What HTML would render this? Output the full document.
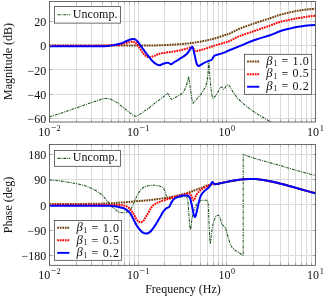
<!DOCTYPE html>
<html><head><meta charset="utf-8"><title>Bode</title>
<style>html,body{margin:0;padding:0;background:#fff;}body{width:328px;height:300px;overflow:hidden;font-family:"Liberation Serif",serif;}</style></head>
<body>
<svg width="328" height="300" viewBox="0 0 328 300" style="display:block;will-change:transform">
<rect x="0" y="0" width="328" height="300" fill="#fff"/>
<defs><clipPath id="c1"><rect x="49.5" y="1.5" width="266.0" height="120.5"/></clipPath><clipPath id="c2"><rect x="49.5" y="144.5" width="266.0" height="120.80000000000001"/></clipPath></defs>
<line x1="76.50" y1="1.5" x2="76.50" y2="122.0" stroke="#dbdbdb" stroke-width="1"/>
<line x1="91.50" y1="1.5" x2="91.50" y2="122.0" stroke="#dbdbdb" stroke-width="1"/>
<line x1="102.50" y1="1.5" x2="102.50" y2="122.0" stroke="#dbdbdb" stroke-width="1"/>
<line x1="111.50" y1="1.5" x2="111.50" y2="122.0" stroke="#dbdbdb" stroke-width="1"/>
<line x1="118.50" y1="1.5" x2="118.50" y2="122.0" stroke="#dbdbdb" stroke-width="1"/>
<line x1="124.50" y1="1.5" x2="124.50" y2="122.0" stroke="#dbdbdb" stroke-width="1"/>
<line x1="129.50" y1="1.5" x2="129.50" y2="122.0" stroke="#dbdbdb" stroke-width="1"/>
<line x1="134.50" y1="1.5" x2="134.50" y2="122.0" stroke="#dbdbdb" stroke-width="1"/>
<line x1="138.50" y1="1.5" x2="138.50" y2="122.0" stroke="#dbdbdb" stroke-width="1"/>
<line x1="164.50" y1="1.5" x2="164.50" y2="122.0" stroke="#dbdbdb" stroke-width="1"/>
<line x1="180.50" y1="1.5" x2="180.50" y2="122.0" stroke="#dbdbdb" stroke-width="1"/>
<line x1="191.50" y1="1.5" x2="191.50" y2="122.0" stroke="#dbdbdb" stroke-width="1"/>
<line x1="200.50" y1="1.5" x2="200.50" y2="122.0" stroke="#dbdbdb" stroke-width="1"/>
<line x1="207.50" y1="1.5" x2="207.50" y2="122.0" stroke="#dbdbdb" stroke-width="1"/>
<line x1="213.50" y1="1.5" x2="213.50" y2="122.0" stroke="#dbdbdb" stroke-width="1"/>
<line x1="218.50" y1="1.5" x2="218.50" y2="122.0" stroke="#dbdbdb" stroke-width="1"/>
<line x1="222.50" y1="1.5" x2="222.50" y2="122.0" stroke="#dbdbdb" stroke-width="1"/>
<line x1="226.50" y1="1.5" x2="226.50" y2="122.0" stroke="#dbdbdb" stroke-width="1"/>
<line x1="253.50" y1="1.5" x2="253.50" y2="122.0" stroke="#dbdbdb" stroke-width="1"/>
<line x1="269.50" y1="1.5" x2="269.50" y2="122.0" stroke="#dbdbdb" stroke-width="1"/>
<line x1="280.50" y1="1.5" x2="280.50" y2="122.0" stroke="#dbdbdb" stroke-width="1"/>
<line x1="288.50" y1="1.5" x2="288.50" y2="122.0" stroke="#dbdbdb" stroke-width="1"/>
<line x1="295.50" y1="1.5" x2="295.50" y2="122.0" stroke="#dbdbdb" stroke-width="1"/>
<line x1="301.50" y1="1.5" x2="301.50" y2="122.0" stroke="#dbdbdb" stroke-width="1"/>
<line x1="306.50" y1="1.5" x2="306.50" y2="122.0" stroke="#dbdbdb" stroke-width="1"/>
<line x1="311.50" y1="1.5" x2="311.50" y2="122.0" stroke="#dbdbdb" stroke-width="1"/>
<line x1="49.5" y1="21.50" x2="315.5" y2="21.50" stroke="#dbdbdb" stroke-width="1"/>
<line x1="49.5" y1="45.50" x2="315.5" y2="45.50" stroke="#dbdbdb" stroke-width="1"/>
<line x1="49.5" y1="69.50" x2="315.5" y2="69.50" stroke="#dbdbdb" stroke-width="1"/>
<line x1="49.5" y1="94.50" x2="315.5" y2="94.50" stroke="#dbdbdb" stroke-width="1"/>
<line x1="49.5" y1="118.50" x2="315.5" y2="118.50" stroke="#dbdbdb" stroke-width="1"/>
<g clip-path="url(#c1)" fill="none" stroke-linejoin="round">
<path d="M49.50,116.80 C51.95,116.02 59.20,113.77 64.20,112.10 C69.20,110.43 74.42,108.58 79.50,106.80 C84.58,105.02 91.45,102.50 94.70,101.40 C97.95,100.30 97.93,100.55 99.00,100.20 C100.07,99.85 100.35,99.55 101.10,99.30 C101.85,99.05 102.62,98.85 103.50,98.70 C104.38,98.55 105.52,98.40 106.40,98.40 C107.28,98.40 108.03,98.53 108.80,98.70 C109.57,98.87 110.13,99.03 111.00,99.40 C111.87,99.77 112.85,100.27 114.00,100.90 C115.15,101.53 115.98,101.80 117.90,103.20 C119.82,104.60 123.22,107.47 125.50,109.30 C127.78,111.13 130.25,113.17 131.60,114.20 C132.95,115.23 132.97,115.17 133.60,115.50 C134.23,115.83 134.80,116.17 135.40,116.20 C136.00,116.23 136.57,115.95 137.20,115.70 C137.83,115.45 137.90,115.55 139.20,114.70 C140.50,113.85 143.60,111.55 145.00,110.60 C146.40,109.65 145.90,110.28 147.60,109.00 C149.30,107.72 152.65,104.88 155.20,102.90 C157.75,100.92 161.17,98.43 162.90,97.10 C164.63,95.77 164.85,95.52 165.60,94.90 C166.35,94.28 166.93,93.45 167.40,93.40 C167.87,93.35 168.02,94.03 168.40,94.60 C168.78,95.17 169.27,96.12 169.70,96.80 C170.13,97.48 170.62,98.27 171.00,98.70 C171.38,99.13 171.58,99.40 172.00,99.40 C172.42,99.40 172.73,99.13 173.50,98.70 C174.27,98.27 175.32,97.58 176.60,96.80 C177.88,96.02 179.93,95.05 181.20,94.00 C182.47,92.95 183.28,92.08 184.20,90.50 C185.12,88.92 186.07,86.25 186.70,84.50 C187.33,82.75 187.67,81.28 188.00,80.00 C188.33,78.72 188.48,76.72 188.70,76.80 C188.92,76.88 189.08,78.97 189.30,80.50 C189.52,82.03 189.60,83.13 190.00,86.00 C190.40,88.87 191.28,95.07 191.70,97.70 C192.12,100.33 192.28,100.88 192.50,101.80 C192.72,102.72 192.77,103.12 193.00,103.20 C193.23,103.28 193.28,103.00 193.90,102.30 C194.52,101.60 195.40,100.55 196.70,99.00 C198.00,97.45 200.32,94.88 201.70,93.00 C203.08,91.12 204.17,89.42 205.00,87.70 C205.83,85.98 206.20,84.93 206.70,82.70 C207.20,80.47 207.65,77.92 208.00,74.30 C208.35,70.68 208.57,61.72 208.80,61.00 C209.03,60.28 209.20,67.22 209.40,70.00 C209.60,72.78 209.68,74.20 210.00,77.70 C210.32,81.20 210.93,87.87 211.30,91.00 C211.67,94.13 211.95,95.25 212.20,96.50 C212.45,97.75 212.53,98.32 212.80,98.50 C213.07,98.68 213.35,98.03 213.80,97.60 C214.25,97.17 214.68,97.05 215.50,95.90 C216.32,94.75 217.95,91.97 218.70,90.70 C219.45,89.43 219.60,88.90 220.00,88.30 C220.40,87.70 220.70,87.18 221.10,87.10 C221.50,87.02 221.97,87.43 222.40,87.80 C222.83,88.17 223.27,89.28 223.70,89.30 C224.13,89.32 224.62,88.47 225.00,87.90 C225.38,87.33 225.67,86.35 226.00,85.90 C226.33,85.45 226.63,85.32 227.00,85.20 C227.37,85.08 227.78,85.07 228.20,85.20 C228.62,85.33 228.87,85.13 229.50,86.00 C230.13,86.87 231.03,88.87 232.00,90.40 C232.97,91.93 234.18,93.72 235.30,95.20 C236.42,96.68 237.03,97.62 238.70,99.30 C240.37,100.98 243.08,103.43 245.30,105.30 C247.52,107.17 249.88,108.98 252.00,110.50 C254.12,112.02 256.00,113.15 258.00,114.40 C260.00,115.65 262.08,116.87 264.00,118.00 C265.92,119.13 267.83,120.22 269.50,121.20 C271.17,122.18 273.25,123.45 274.00,123.90" stroke="#1a521a" stroke-width="1.05" stroke-dasharray="2.8 1.0 1.0 1.0"/>
<path d="M49.50,45.60 C57.92,45.60 84.92,45.61 100.00,45.60 C115.08,45.59 131.67,45.57 140.00,45.55 C148.33,45.52 146.67,45.49 150.00,45.45 C153.33,45.41 155.83,45.46 160.00,45.30 C164.17,45.14 170.83,44.77 175.00,44.50 C179.17,44.23 182.50,43.92 185.00,43.70 C187.50,43.48 188.33,43.40 190.00,43.20 C191.67,43.00 192.78,42.85 195.00,42.50 C197.22,42.15 200.80,41.58 203.30,41.10 C205.80,40.62 207.77,40.13 210.00,39.60 C212.23,39.07 214.20,38.67 216.70,37.90 C219.20,37.13 222.78,35.75 225.00,35.00 C227.22,34.25 227.47,34.48 230.00,33.40 C232.53,32.32 235.95,30.23 240.20,28.50 C244.45,26.77 250.53,24.70 255.50,23.00 C260.47,21.30 265.93,19.65 270.00,18.30 C274.07,16.95 276.60,15.88 279.90,14.90 C283.20,13.92 286.78,13.10 289.80,12.40 C292.82,11.70 295.47,11.15 298.00,10.70 C300.53,10.25 303.00,9.95 305.00,9.70 C307.00,9.45 308.25,9.35 310.00,9.20 C311.75,9.05 314.58,8.87 315.50,8.80" stroke="#70400c" stroke-width="2.0" stroke-dasharray="1.75 0.8"/>
<path d="M49.50,45.70 C57.92,45.70 89.92,45.75 100.00,45.70 C110.08,45.65 107.33,45.53 110.00,45.40 C112.67,45.27 114.33,45.02 116.00,44.90 C117.67,44.78 118.22,45.03 120.00,44.70 C121.78,44.37 125.03,43.33 126.70,42.90 C128.37,42.47 129.00,42.30 130.00,42.10 C131.00,41.90 131.95,41.68 132.70,41.70 C133.45,41.72 133.95,41.93 134.50,42.20 C135.05,42.47 135.30,42.55 136.00,43.30 C136.70,44.05 137.58,45.13 138.70,46.70 C139.82,48.27 141.65,51.28 142.70,52.70 C143.75,54.12 144.33,54.55 145.00,55.20 C145.67,55.85 146.08,56.25 146.70,56.60 C147.32,56.95 148.02,57.23 148.70,57.30 C149.38,57.37 150.03,57.20 150.80,57.00 C151.57,56.80 152.60,56.33 153.30,56.10 C154.00,55.87 154.22,55.90 155.00,55.60 C155.78,55.30 156.88,54.70 158.00,54.30 C159.12,53.90 159.98,53.53 161.70,53.20 C163.42,52.87 166.08,52.62 168.30,52.30 C170.52,51.98 172.77,51.70 175.00,51.30 C177.23,50.90 179.48,50.43 181.70,49.90 C183.92,49.37 186.83,48.53 188.30,48.10 C189.77,47.67 189.82,47.50 190.50,47.30 C191.18,47.10 191.92,46.72 192.40,46.90 C192.88,47.08 193.02,47.77 193.40,48.40 C193.78,49.03 194.27,50.22 194.70,50.70 C195.13,51.18 195.45,51.28 196.00,51.30 C196.55,51.32 196.78,51.13 198.00,50.80 C199.22,50.47 201.30,49.90 203.30,49.30 C205.30,48.70 207.77,47.93 210.00,47.20 C212.23,46.47 214.20,45.68 216.70,44.90 C219.20,44.12 222.78,43.20 225.00,42.50 C227.22,41.80 227.47,41.80 230.00,40.70 C232.53,39.60 235.95,37.58 240.20,35.90 C244.45,34.22 250.53,32.32 255.50,30.60 C260.47,28.88 265.93,27.03 270.00,25.60 C274.07,24.17 276.60,22.98 279.90,22.00 C283.20,21.02 286.78,20.33 289.80,19.70 C292.82,19.07 295.47,18.65 298.00,18.20 C300.53,17.75 303.00,17.32 305.00,17.00 C307.00,16.68 308.25,16.50 310.00,16.30 C311.75,16.10 314.58,15.88 315.50,15.80" stroke="#ff0000" stroke-width="2.0" stroke-dasharray="1.75 0.8"/>
<path d="M49.50,46.35 C57.92,46.34 90.25,46.36 100.00,46.30 C109.75,46.24 105.62,46.22 108.00,46.00 C110.38,45.78 112.30,45.38 114.30,45.00 C116.30,44.62 117.93,44.37 120.00,43.70 C122.07,43.03 124.95,41.70 126.70,41.00 C128.45,40.30 129.58,39.83 130.50,39.50 C131.42,39.17 131.67,39.13 132.20,39.05 C132.73,38.97 133.18,38.92 133.70,39.00 C134.22,39.08 134.70,39.12 135.30,39.50 C135.90,39.88 136.63,40.58 137.30,41.30 C137.97,42.02 138.63,42.90 139.30,43.80 C139.97,44.70 140.07,45.00 141.30,46.70 C142.53,48.40 144.92,51.67 146.70,54.00 C148.48,56.33 150.62,59.15 152.00,60.70 C153.38,62.25 154.12,62.63 155.00,63.30 C155.88,63.97 156.55,64.38 157.30,64.70 C158.05,65.02 158.80,65.22 159.50,65.20 C160.20,65.18 160.92,64.83 161.50,64.60 C162.08,64.37 162.25,64.07 163.00,63.80 C163.75,63.53 165.22,63.18 166.00,63.00 C166.78,62.82 167.15,62.65 167.70,62.70 C168.25,62.75 168.75,63.03 169.30,63.30 C169.85,63.57 170.50,64.25 171.00,64.30 C171.50,64.35 171.63,64.03 172.30,63.60 C172.97,63.17 173.43,62.68 175.00,61.70 C176.57,60.72 179.70,59.03 181.70,57.70 C183.70,56.37 185.57,55.15 187.00,53.70 C188.43,52.25 189.58,50.03 190.30,49.00 C191.02,47.97 191.00,47.85 191.30,47.50 C191.60,47.15 191.83,46.82 192.10,46.90 C192.37,46.98 192.58,47.15 192.90,48.00 C193.22,48.85 193.48,49.78 194.00,52.00 C194.52,54.22 195.47,59.18 196.00,61.30 C196.53,63.42 196.75,63.92 197.20,64.70 C197.65,65.48 198.18,65.92 198.70,66.00 C199.22,66.08 199.53,65.65 200.30,65.20 C201.07,64.75 201.90,64.02 203.30,63.30 C204.70,62.58 207.37,61.45 208.70,60.90 C210.03,60.35 210.67,60.38 211.30,60.00 C211.93,59.62 212.05,59.25 212.50,58.60 C212.95,57.95 213.55,56.65 214.00,56.10 C214.45,55.55 214.75,55.50 215.20,55.30 C215.65,55.10 215.35,55.30 216.70,54.90 C218.05,54.50 221.08,53.72 223.30,52.90 C225.52,52.08 227.18,51.18 230.00,50.00 C232.82,48.82 235.95,47.52 240.20,45.80 C244.45,44.08 250.53,41.47 255.50,39.70 C260.47,37.93 265.93,36.60 270.00,35.20 C274.07,33.80 276.60,32.40 279.90,31.30 C283.20,30.20 286.78,29.35 289.80,28.60 C292.82,27.85 295.47,27.27 298.00,26.80 C300.53,26.33 303.00,26.07 305.00,25.80 C307.00,25.53 308.25,25.37 310.00,25.20 C311.75,25.03 314.58,24.87 315.50,24.80" stroke="#0000ff" stroke-width="2.0"/>
</g>
<line x1="49.50" y1="122.0" x2="49.50" y2="119.2" stroke="#8a8a8a" stroke-width="0.6"/>
<line x1="49.50" y1="1.5" x2="49.50" y2="4.3" stroke="#a8a8a8" stroke-width="0.6"/>
<line x1="76.50" y1="122.0" x2="76.50" y2="119.2" stroke="#8a8a8a" stroke-width="0.6"/>
<line x1="76.50" y1="1.5" x2="76.50" y2="4.3" stroke="#a8a8a8" stroke-width="0.6"/>
<line x1="91.50" y1="122.0" x2="91.50" y2="119.2" stroke="#8a8a8a" stroke-width="0.6"/>
<line x1="91.50" y1="1.5" x2="91.50" y2="4.3" stroke="#a8a8a8" stroke-width="0.6"/>
<line x1="102.50" y1="122.0" x2="102.50" y2="119.2" stroke="#8a8a8a" stroke-width="0.6"/>
<line x1="102.50" y1="1.5" x2="102.50" y2="4.3" stroke="#a8a8a8" stroke-width="0.6"/>
<line x1="111.50" y1="122.0" x2="111.50" y2="119.2" stroke="#8a8a8a" stroke-width="0.6"/>
<line x1="111.50" y1="1.5" x2="111.50" y2="4.3" stroke="#a8a8a8" stroke-width="0.6"/>
<line x1="118.50" y1="122.0" x2="118.50" y2="119.2" stroke="#8a8a8a" stroke-width="0.6"/>
<line x1="118.50" y1="1.5" x2="118.50" y2="4.3" stroke="#a8a8a8" stroke-width="0.6"/>
<line x1="124.50" y1="122.0" x2="124.50" y2="119.2" stroke="#8a8a8a" stroke-width="0.6"/>
<line x1="124.50" y1="1.5" x2="124.50" y2="4.3" stroke="#a8a8a8" stroke-width="0.6"/>
<line x1="129.50" y1="122.0" x2="129.50" y2="119.2" stroke="#8a8a8a" stroke-width="0.6"/>
<line x1="129.50" y1="1.5" x2="129.50" y2="4.3" stroke="#a8a8a8" stroke-width="0.6"/>
<line x1="134.50" y1="122.0" x2="134.50" y2="119.2" stroke="#8a8a8a" stroke-width="0.6"/>
<line x1="134.50" y1="1.5" x2="134.50" y2="4.3" stroke="#a8a8a8" stroke-width="0.6"/>
<line x1="138.50" y1="122.0" x2="138.50" y2="119.2" stroke="#8a8a8a" stroke-width="0.6"/>
<line x1="138.50" y1="1.5" x2="138.50" y2="4.3" stroke="#a8a8a8" stroke-width="0.6"/>
<line x1="164.50" y1="122.0" x2="164.50" y2="119.2" stroke="#8a8a8a" stroke-width="0.6"/>
<line x1="164.50" y1="1.5" x2="164.50" y2="4.3" stroke="#a8a8a8" stroke-width="0.6"/>
<line x1="180.50" y1="122.0" x2="180.50" y2="119.2" stroke="#8a8a8a" stroke-width="0.6"/>
<line x1="180.50" y1="1.5" x2="180.50" y2="4.3" stroke="#a8a8a8" stroke-width="0.6"/>
<line x1="191.50" y1="122.0" x2="191.50" y2="119.2" stroke="#8a8a8a" stroke-width="0.6"/>
<line x1="191.50" y1="1.5" x2="191.50" y2="4.3" stroke="#a8a8a8" stroke-width="0.6"/>
<line x1="200.50" y1="122.0" x2="200.50" y2="119.2" stroke="#8a8a8a" stroke-width="0.6"/>
<line x1="200.50" y1="1.5" x2="200.50" y2="4.3" stroke="#a8a8a8" stroke-width="0.6"/>
<line x1="207.50" y1="122.0" x2="207.50" y2="119.2" stroke="#8a8a8a" stroke-width="0.6"/>
<line x1="207.50" y1="1.5" x2="207.50" y2="4.3" stroke="#a8a8a8" stroke-width="0.6"/>
<line x1="213.50" y1="122.0" x2="213.50" y2="119.2" stroke="#8a8a8a" stroke-width="0.6"/>
<line x1="213.50" y1="1.5" x2="213.50" y2="4.3" stroke="#a8a8a8" stroke-width="0.6"/>
<line x1="218.50" y1="122.0" x2="218.50" y2="119.2" stroke="#8a8a8a" stroke-width="0.6"/>
<line x1="218.50" y1="1.5" x2="218.50" y2="4.3" stroke="#a8a8a8" stroke-width="0.6"/>
<line x1="222.50" y1="122.0" x2="222.50" y2="119.2" stroke="#8a8a8a" stroke-width="0.6"/>
<line x1="222.50" y1="1.5" x2="222.50" y2="4.3" stroke="#a8a8a8" stroke-width="0.6"/>
<line x1="226.50" y1="122.0" x2="226.50" y2="119.2" stroke="#8a8a8a" stroke-width="0.6"/>
<line x1="226.50" y1="1.5" x2="226.50" y2="4.3" stroke="#a8a8a8" stroke-width="0.6"/>
<line x1="253.50" y1="122.0" x2="253.50" y2="119.2" stroke="#8a8a8a" stroke-width="0.6"/>
<line x1="253.50" y1="1.5" x2="253.50" y2="4.3" stroke="#a8a8a8" stroke-width="0.6"/>
<line x1="269.50" y1="122.0" x2="269.50" y2="119.2" stroke="#8a8a8a" stroke-width="0.6"/>
<line x1="269.50" y1="1.5" x2="269.50" y2="4.3" stroke="#a8a8a8" stroke-width="0.6"/>
<line x1="280.50" y1="122.0" x2="280.50" y2="119.2" stroke="#8a8a8a" stroke-width="0.6"/>
<line x1="280.50" y1="1.5" x2="280.50" y2="4.3" stroke="#a8a8a8" stroke-width="0.6"/>
<line x1="288.50" y1="122.0" x2="288.50" y2="119.2" stroke="#8a8a8a" stroke-width="0.6"/>
<line x1="288.50" y1="1.5" x2="288.50" y2="4.3" stroke="#a8a8a8" stroke-width="0.6"/>
<line x1="295.50" y1="122.0" x2="295.50" y2="119.2" stroke="#8a8a8a" stroke-width="0.6"/>
<line x1="295.50" y1="1.5" x2="295.50" y2="4.3" stroke="#a8a8a8" stroke-width="0.6"/>
<line x1="301.50" y1="122.0" x2="301.50" y2="119.2" stroke="#8a8a8a" stroke-width="0.6"/>
<line x1="301.50" y1="1.5" x2="301.50" y2="4.3" stroke="#a8a8a8" stroke-width="0.6"/>
<line x1="306.50" y1="122.0" x2="306.50" y2="119.2" stroke="#8a8a8a" stroke-width="0.6"/>
<line x1="306.50" y1="1.5" x2="306.50" y2="4.3" stroke="#a8a8a8" stroke-width="0.6"/>
<line x1="311.50" y1="122.0" x2="311.50" y2="119.2" stroke="#8a8a8a" stroke-width="0.6"/>
<line x1="311.50" y1="1.5" x2="311.50" y2="4.3" stroke="#a8a8a8" stroke-width="0.6"/>
<line x1="49.5" y1="21.50" x2="52.3" y2="21.50" stroke="#8a8a8a" stroke-width="0.6"/>
<line x1="315.5" y1="21.50" x2="312.7" y2="21.50" stroke="#8a8a8a" stroke-width="0.6"/>
<line x1="49.5" y1="45.50" x2="52.3" y2="45.50" stroke="#8a8a8a" stroke-width="0.6"/>
<line x1="315.5" y1="45.50" x2="312.7" y2="45.50" stroke="#8a8a8a" stroke-width="0.6"/>
<line x1="49.5" y1="69.50" x2="52.3" y2="69.50" stroke="#8a8a8a" stroke-width="0.6"/>
<line x1="315.5" y1="69.50" x2="312.7" y2="69.50" stroke="#8a8a8a" stroke-width="0.6"/>
<line x1="49.5" y1="94.50" x2="52.3" y2="94.50" stroke="#8a8a8a" stroke-width="0.6"/>
<line x1="315.5" y1="94.50" x2="312.7" y2="94.50" stroke="#8a8a8a" stroke-width="0.6"/>
<line x1="49.5" y1="118.50" x2="52.3" y2="118.50" stroke="#8a8a8a" stroke-width="0.6"/>
<line x1="315.5" y1="118.50" x2="312.7" y2="118.50" stroke="#8a8a8a" stroke-width="0.6"/>
<rect x="49.5" y="1.5" width="266.0" height="120.5" fill="none" stroke="#3c3c3c" stroke-width="0.75"/>
<text x="46.2" y="26.03" text-anchor="end" font-family="Liberation Serif, serif" font-size="12" fill="#111">20</text>
<text x="46.2" y="50.30" text-anchor="end" font-family="Liberation Serif, serif" font-size="12" fill="#111">0</text>
<text x="46.2" y="74.57" text-anchor="end" font-family="Liberation Serif, serif" font-size="12" fill="#111">−20</text>
<text x="46.2" y="98.84" text-anchor="end" font-family="Liberation Serif, serif" font-size="12" fill="#111">−40</text>
<text x="46.2" y="123.11" text-anchor="end" font-family="Liberation Serif, serif" font-size="12" fill="#111">−60</text>
<text x="38.30" y="135.60" font-family="Liberation Serif, serif" font-size="12" fill="#111">10<tspan dy="-4.8" dx="0.6" font-size="10">−</tspan><tspan font-size="8.3">2</tspan></text>
<text x="126.97" y="135.60" font-family="Liberation Serif, serif" font-size="12" fill="#111">10<tspan dy="-4.8" dx="0.6" font-size="10">−</tspan><tspan font-size="8.3">1</tspan></text>
<text x="218.46" y="135.60" font-family="Liberation Serif, serif" font-size="12" fill="#111">10<tspan dy="-4.8" dx="0.6" font-size="8.3">0</tspan></text>
<text x="307.12" y="135.60" font-family="Liberation Serif, serif" font-size="12" fill="#111">10<tspan dy="-4.8" dx="0.6" font-size="8.3">1</tspan></text>
<text transform="translate(12.2,61.5) rotate(-90)" text-anchor="middle" font-family="Liberation Serif, serif" font-size="12" fill="#111">Magnitude (dB)</text>
<line x1="76.50" y1="144.5" x2="76.50" y2="265.3" stroke="#dbdbdb" stroke-width="1"/>
<line x1="91.50" y1="144.5" x2="91.50" y2="265.3" stroke="#dbdbdb" stroke-width="1"/>
<line x1="102.50" y1="144.5" x2="102.50" y2="265.3" stroke="#dbdbdb" stroke-width="1"/>
<line x1="111.50" y1="144.5" x2="111.50" y2="265.3" stroke="#dbdbdb" stroke-width="1"/>
<line x1="118.50" y1="144.5" x2="118.50" y2="265.3" stroke="#dbdbdb" stroke-width="1"/>
<line x1="124.50" y1="144.5" x2="124.50" y2="265.3" stroke="#dbdbdb" stroke-width="1"/>
<line x1="129.50" y1="144.5" x2="129.50" y2="265.3" stroke="#dbdbdb" stroke-width="1"/>
<line x1="134.50" y1="144.5" x2="134.50" y2="265.3" stroke="#dbdbdb" stroke-width="1"/>
<line x1="138.50" y1="144.5" x2="138.50" y2="265.3" stroke="#dbdbdb" stroke-width="1"/>
<line x1="164.50" y1="144.5" x2="164.50" y2="265.3" stroke="#dbdbdb" stroke-width="1"/>
<line x1="180.50" y1="144.5" x2="180.50" y2="265.3" stroke="#dbdbdb" stroke-width="1"/>
<line x1="191.50" y1="144.5" x2="191.50" y2="265.3" stroke="#dbdbdb" stroke-width="1"/>
<line x1="200.50" y1="144.5" x2="200.50" y2="265.3" stroke="#dbdbdb" stroke-width="1"/>
<line x1="207.50" y1="144.5" x2="207.50" y2="265.3" stroke="#dbdbdb" stroke-width="1"/>
<line x1="213.50" y1="144.5" x2="213.50" y2="265.3" stroke="#dbdbdb" stroke-width="1"/>
<line x1="218.50" y1="144.5" x2="218.50" y2="265.3" stroke="#dbdbdb" stroke-width="1"/>
<line x1="222.50" y1="144.5" x2="222.50" y2="265.3" stroke="#dbdbdb" stroke-width="1"/>
<line x1="226.50" y1="144.5" x2="226.50" y2="265.3" stroke="#dbdbdb" stroke-width="1"/>
<line x1="253.50" y1="144.5" x2="253.50" y2="265.3" stroke="#dbdbdb" stroke-width="1"/>
<line x1="269.50" y1="144.5" x2="269.50" y2="265.3" stroke="#dbdbdb" stroke-width="1"/>
<line x1="280.50" y1="144.5" x2="280.50" y2="265.3" stroke="#dbdbdb" stroke-width="1"/>
<line x1="288.50" y1="144.5" x2="288.50" y2="265.3" stroke="#dbdbdb" stroke-width="1"/>
<line x1="295.50" y1="144.5" x2="295.50" y2="265.3" stroke="#dbdbdb" stroke-width="1"/>
<line x1="301.50" y1="144.5" x2="301.50" y2="265.3" stroke="#dbdbdb" stroke-width="1"/>
<line x1="306.50" y1="144.5" x2="306.50" y2="265.3" stroke="#dbdbdb" stroke-width="1"/>
<line x1="311.50" y1="144.5" x2="311.50" y2="265.3" stroke="#dbdbdb" stroke-width="1"/>
<line x1="49.5" y1="154.50" x2="315.5" y2="154.50" stroke="#dbdbdb" stroke-width="1"/>
<line x1="49.5" y1="179.50" x2="315.5" y2="179.50" stroke="#dbdbdb" stroke-width="1"/>
<line x1="49.5" y1="204.50" x2="315.5" y2="204.50" stroke="#dbdbdb" stroke-width="1"/>
<line x1="49.5" y1="230.50" x2="315.5" y2="230.50" stroke="#dbdbdb" stroke-width="1"/>
<line x1="49.5" y1="255.50" x2="315.5" y2="255.50" stroke="#dbdbdb" stroke-width="1"/>
<g clip-path="url(#c2)" fill="none" stroke-linejoin="round">
<path d="M49.50,180.00 C51.08,180.15 56.48,180.55 60.00,181.00 C63.52,181.45 69.25,182.28 73.00,183.00 C76.75,183.72 82.05,184.92 85.00,185.80 C87.95,186.69 90.41,187.75 92.70,188.90 C95.00,190.06 98.47,192.12 100.30,193.50 C102.13,194.88 103.75,196.84 104.90,198.10 C106.06,199.36 107.13,200.82 108.00,201.90 C108.87,202.98 109.89,204.39 110.70,205.30 C111.51,206.22 112.31,207.06 113.40,208.00 C114.50,208.94 116.86,210.91 118.00,211.60 C119.14,212.29 120.20,212.42 121.00,212.60 C121.80,212.78 122.70,212.79 123.30,212.80 C123.90,212.81 124.41,212.82 125.00,212.70 C125.59,212.58 126.60,212.31 127.20,212.00 C127.80,211.69 128.43,211.11 129.00,210.60 C129.57,210.09 130.47,209.29 131.00,208.60 C131.53,207.91 131.97,207.06 132.50,206.00 C133.03,204.94 133.82,203.06 134.50,201.50 C135.18,199.94 136.03,197.38 137.00,195.60 C137.97,193.81 139.80,190.95 141.00,189.60 C142.20,188.25 143.65,187.23 145.00,186.60 C146.35,185.97 148.50,185.59 150.00,185.40 C151.50,185.21 153.50,185.18 155.00,185.30 C156.50,185.42 158.88,185.88 160.00,186.20 C161.12,186.51 161.90,186.98 162.50,187.40 C163.10,187.82 163.59,188.34 164.00,189.00 C164.41,189.66 164.90,190.90 165.20,191.80 C165.50,192.70 165.73,194.13 166.00,195.00 C166.27,195.87 166.62,197.06 167.00,197.60 C167.38,198.14 167.75,198.50 168.50,198.60 C169.25,198.70 170.57,198.51 172.00,198.30 C173.43,198.09 176.35,197.42 178.00,197.20 C179.65,196.97 181.71,196.83 183.00,196.80 C184.29,196.77 185.91,196.59 186.60,197.00 C187.29,197.41 187.34,198.15 187.60,199.50 C187.85,200.85 188.09,203.53 188.30,206.00 C188.51,208.47 188.78,213.00 189.00,216.00 C189.22,219.00 189.59,223.96 189.80,226.00 C190.01,228.04 190.21,229.60 190.40,229.60 C190.59,229.60 190.86,227.59 191.10,226.00 C191.34,224.41 191.56,221.40 192.00,219.00 C192.44,216.60 193.25,212.25 194.00,210.00 C194.75,207.75 196.25,205.26 197.00,204.00 C197.75,202.74 198.35,202.14 199.00,201.60 C199.65,201.06 200.55,200.61 201.30,200.40 C202.05,200.19 203.19,200.21 204.00,200.20 C204.81,200.19 206.14,200.11 206.70,200.30 C207.25,200.50 207.44,200.42 207.70,201.50 C207.95,202.58 208.18,203.53 208.40,207.50 C208.62,211.47 208.94,222.63 209.20,228.00 C209.45,233.37 209.86,241.50 210.10,243.30 C210.34,245.10 210.61,241.34 210.80,240.00 C211.00,238.66 211.06,236.84 211.40,234.40 C211.75,231.96 212.47,226.32 213.10,223.70 C213.73,221.07 215.01,218.13 215.60,216.90 C216.19,215.67 216.64,215.75 217.00,215.50 C217.36,215.25 217.70,215.17 218.00,215.20 C218.30,215.23 218.72,215.38 219.00,215.70 C219.28,216.01 219.60,216.50 219.90,217.30 C220.20,218.10 220.69,219.94 221.00,221.00 C221.31,222.06 221.59,223.66 222.00,224.40 C222.41,225.14 223.19,225.36 223.70,225.90 C224.21,226.44 224.97,227.16 225.40,228.00 C225.84,228.84 226.21,230.15 226.60,231.50 C226.99,232.85 227.31,234.81 228.00,237.00 C228.69,239.19 230.07,244.09 231.20,246.10 C232.32,248.11 234.22,249.34 235.50,250.40 C236.78,251.47 238.74,252.55 239.70,253.20 C240.66,253.84 241.38,254.37 241.90,254.70 C242.43,255.03 243.00,255.30 243.20,255.40 L243.2,154.4 L243.20,154.40 C244.38,154.83 247.17,155.98 250.30,157.00 C253.43,158.02 257.05,159.08 262.00,160.50 C266.95,161.92 274.55,163.93 280.00,165.50 C285.45,167.07 289.82,168.50 294.70,169.90 C299.58,171.30 305.83,172.97 309.30,173.90 C312.77,174.83 314.47,175.23 315.50,175.50" stroke="#1a521a" stroke-width="1.05" stroke-dasharray="2.8 1.0 1.0 1.0"/>
<path d="M49.50,204.00 C55.42,203.98 75.25,204.00 85.00,203.90 C94.75,203.80 101.62,203.65 108.00,203.40 C114.38,203.15 118.80,202.75 123.30,202.40 C127.80,202.05 131.38,201.60 135.00,201.30 C138.62,201.00 141.67,200.92 145.00,200.60 C148.33,200.28 151.67,199.83 155.00,199.40 C158.33,198.97 162.50,198.37 165.00,198.00 C167.50,197.63 167.50,197.70 170.00,197.20 C172.50,196.70 176.67,195.87 180.00,195.00 C183.33,194.13 187.33,192.87 190.00,192.00 C192.67,191.13 193.98,190.53 196.00,189.80 C198.02,189.07 200.07,188.37 202.10,187.60 C204.13,186.83 206.55,185.77 208.20,185.20 C209.85,184.63 210.37,184.45 212.00,184.20 C213.63,183.95 215.58,184.08 218.00,183.70 C220.42,183.32 223.50,182.47 226.50,181.90 C229.50,181.33 233.18,180.73 236.00,180.30 C238.82,179.87 241.05,179.53 243.40,179.30 C245.75,179.07 248.00,178.93 250.10,178.90 C252.20,178.87 253.75,178.90 256.00,179.10 C258.25,179.30 261.27,179.73 263.60,180.10 C265.93,180.47 267.77,180.85 270.00,181.30 C272.23,181.75 274.50,182.22 277.00,182.80 C279.50,183.38 282.05,184.02 285.00,184.80 C287.95,185.58 290.65,186.37 294.70,187.50 C298.75,188.63 305.83,190.65 309.30,191.60 C312.77,192.55 314.47,192.93 315.50,193.20" stroke="#70400c" stroke-width="2.0" stroke-dasharray="1.75 0.8"/>
<path d="M49.50,204.80 C55.42,204.80 74.92,204.78 85.00,204.80 C95.08,204.82 104.50,204.87 110.00,204.90 C115.50,204.93 115.78,204.92 118.00,205.00 C120.22,205.08 121.88,205.17 123.30,205.40 C124.72,205.63 125.47,205.90 126.50,206.40 C127.53,206.90 128.67,207.63 129.50,208.40 C130.33,209.17 130.87,210.17 131.50,211.00 C132.13,211.83 132.68,212.40 133.30,213.40 C133.92,214.40 134.58,215.90 135.20,217.00 C135.82,218.10 136.40,219.22 137.00,220.00 C137.60,220.78 138.20,221.30 138.80,221.70 C139.40,222.10 140.02,222.38 140.60,222.40 C141.18,222.42 141.73,222.20 142.30,221.80 C142.87,221.40 143.22,221.13 144.00,220.00 C144.78,218.87 145.83,217.00 147.00,215.00 C148.17,213.00 150.00,209.57 151.00,208.00 C152.00,206.43 152.33,206.27 153.00,205.60 C153.67,204.93 154.25,204.50 155.00,204.00 C155.75,203.50 156.67,203.00 157.50,202.60 C158.33,202.20 158.75,202.03 160.00,201.60 C161.25,201.17 163.33,200.53 165.00,200.00 C166.67,199.47 168.33,198.90 170.00,198.40 C171.67,197.90 173.33,197.47 175.00,197.00 C176.67,196.53 178.33,196.05 180.00,195.60 C181.67,195.15 183.67,194.63 185.00,194.30 C186.33,193.97 187.20,193.67 188.00,193.60 C188.80,193.53 189.30,193.67 189.80,193.90 C190.30,194.13 190.58,194.32 191.00,195.00 C191.42,195.68 191.87,197.10 192.30,198.00 C192.73,198.90 193.18,200.30 193.60,200.40 C194.02,200.50 194.40,199.43 194.80,198.60 C195.20,197.77 195.47,196.40 196.00,195.40 C196.53,194.40 197.33,193.40 198.00,192.60 C198.67,191.80 199.12,191.35 200.00,190.60 C200.88,189.85 201.93,188.90 203.30,188.10 C204.67,187.30 206.92,186.38 208.20,185.80 C209.48,185.22 210.03,184.90 211.00,184.60 C211.97,184.30 212.83,184.15 214.00,184.00 C215.17,183.85 215.92,184.05 218.00,183.70 C220.08,183.35 223.50,182.47 226.50,181.90 C229.50,181.33 233.18,180.73 236.00,180.30 C238.82,179.87 241.05,179.53 243.40,179.30 C245.75,179.07 248.00,178.93 250.10,178.90 C252.20,178.87 253.75,178.90 256.00,179.10 C258.25,179.30 261.27,179.73 263.60,180.10 C265.93,180.47 267.77,180.85 270.00,181.30 C272.23,181.75 274.50,182.22 277.00,182.80 C279.50,183.38 282.05,184.02 285.00,184.80 C287.95,185.58 290.65,186.37 294.70,187.50 C298.75,188.63 305.83,190.65 309.30,191.60 C312.77,192.55 314.47,192.93 315.50,193.20" stroke="#ff0000" stroke-width="2.0" stroke-dasharray="1.75 0.8"/>
<path d="M49.50,205.70 C55.42,205.70 75.75,205.69 85.00,205.70 C94.25,205.71 100.67,205.72 105.00,205.75 C109.33,205.78 109.33,205.81 111.00,205.90 C112.67,205.99 113.72,206.12 115.00,206.30 C116.28,206.48 117.53,206.75 118.70,207.00 C119.87,207.25 120.97,207.50 122.00,207.80 C123.03,208.10 124.07,208.40 124.90,208.80 C125.73,209.20 126.27,209.63 127.00,210.20 C127.73,210.77 128.63,211.50 129.30,212.20 C129.97,212.90 130.38,213.37 131.00,214.40 C131.62,215.43 132.00,216.47 133.00,218.40 C134.00,220.33 135.67,223.90 137.00,226.00 C138.33,228.10 139.92,229.85 141.00,231.00 C142.08,232.15 142.67,232.47 143.50,232.90 C144.33,233.33 145.17,233.58 146.00,233.60 C146.83,233.62 147.67,233.43 148.50,233.00 C149.33,232.57 149.92,232.23 151.00,231.00 C152.08,229.77 153.67,227.60 155.00,225.60 C156.33,223.60 157.67,221.27 159.00,219.00 C160.33,216.73 162.08,213.47 163.00,212.00 C163.92,210.53 164.00,210.77 164.50,210.20 C165.00,209.63 165.50,209.02 166.00,208.60 C166.50,208.18 167.00,207.97 167.50,207.70 C168.00,207.43 168.58,207.35 169.00,207.00 C169.42,206.65 169.67,206.23 170.00,205.60 C170.33,204.97 170.58,204.00 171.00,203.20 C171.42,202.40 172.00,201.50 172.50,200.80 C173.00,200.10 173.42,199.50 174.00,199.00 C174.58,198.50 175.33,198.13 176.00,197.80 C176.67,197.47 176.83,197.37 178.00,197.00 C179.17,196.63 181.50,195.83 183.00,195.60 C184.50,195.37 186.03,195.47 187.00,195.60 C187.97,195.73 188.30,196.00 188.80,196.40 C189.30,196.80 189.63,197.15 190.00,198.00 C190.37,198.85 190.67,200.17 191.00,201.50 C191.33,202.83 191.57,203.92 192.00,206.00 C192.43,208.08 193.20,212.27 193.60,214.00 C194.00,215.73 194.17,215.90 194.40,216.40 C194.63,216.90 194.78,217.07 195.00,217.00 C195.22,216.93 195.43,216.83 195.70,216.00 C195.97,215.17 196.22,213.67 196.60,212.00 C196.98,210.33 197.48,208.20 198.00,206.00 C198.52,203.80 199.12,200.70 199.70,198.80 C200.28,196.90 200.70,195.92 201.50,194.60 C202.30,193.28 203.38,192.02 204.50,190.90 C205.62,189.78 207.32,188.68 208.20,187.90 C209.08,187.12 209.40,186.72 209.80,186.20 C210.20,185.68 210.30,185.35 210.60,184.80 C210.90,184.25 211.28,183.37 211.60,182.90 C211.92,182.43 212.22,182.02 212.50,182.00 C212.78,181.98 213.00,182.43 213.30,182.80 C213.60,183.17 213.93,183.95 214.30,184.20 C214.67,184.45 214.88,184.38 215.50,184.30 C216.12,184.22 216.17,184.10 218.00,183.70 C219.83,183.30 223.50,182.47 226.50,181.90 C229.50,181.33 233.18,180.73 236.00,180.30 C238.82,179.87 241.05,179.53 243.40,179.30 C245.75,179.07 248.00,178.93 250.10,178.90 C252.20,178.87 253.75,178.90 256.00,179.10 C258.25,179.30 261.27,179.73 263.60,180.10 C265.93,180.47 267.77,180.85 270.00,181.30 C272.23,181.75 274.50,182.22 277.00,182.80 C279.50,183.38 282.05,184.02 285.00,184.80 C287.95,185.58 290.65,186.37 294.70,187.50 C298.75,188.63 305.83,190.65 309.30,191.60 C312.77,192.55 314.47,192.93 315.50,193.20" stroke="#0000ff" stroke-width="2.0"/>
</g>
<line x1="49.50" y1="265.3" x2="49.50" y2="262.5" stroke="#8a8a8a" stroke-width="0.6"/>
<line x1="49.50" y1="144.5" x2="49.50" y2="147.3" stroke="#a8a8a8" stroke-width="0.6"/>
<line x1="76.50" y1="265.3" x2="76.50" y2="262.5" stroke="#8a8a8a" stroke-width="0.6"/>
<line x1="76.50" y1="144.5" x2="76.50" y2="147.3" stroke="#a8a8a8" stroke-width="0.6"/>
<line x1="91.50" y1="265.3" x2="91.50" y2="262.5" stroke="#8a8a8a" stroke-width="0.6"/>
<line x1="91.50" y1="144.5" x2="91.50" y2="147.3" stroke="#a8a8a8" stroke-width="0.6"/>
<line x1="102.50" y1="265.3" x2="102.50" y2="262.5" stroke="#8a8a8a" stroke-width="0.6"/>
<line x1="102.50" y1="144.5" x2="102.50" y2="147.3" stroke="#a8a8a8" stroke-width="0.6"/>
<line x1="111.50" y1="265.3" x2="111.50" y2="262.5" stroke="#8a8a8a" stroke-width="0.6"/>
<line x1="111.50" y1="144.5" x2="111.50" y2="147.3" stroke="#a8a8a8" stroke-width="0.6"/>
<line x1="118.50" y1="265.3" x2="118.50" y2="262.5" stroke="#8a8a8a" stroke-width="0.6"/>
<line x1="118.50" y1="144.5" x2="118.50" y2="147.3" stroke="#a8a8a8" stroke-width="0.6"/>
<line x1="124.50" y1="265.3" x2="124.50" y2="262.5" stroke="#8a8a8a" stroke-width="0.6"/>
<line x1="124.50" y1="144.5" x2="124.50" y2="147.3" stroke="#a8a8a8" stroke-width="0.6"/>
<line x1="129.50" y1="265.3" x2="129.50" y2="262.5" stroke="#8a8a8a" stroke-width="0.6"/>
<line x1="129.50" y1="144.5" x2="129.50" y2="147.3" stroke="#a8a8a8" stroke-width="0.6"/>
<line x1="134.50" y1="265.3" x2="134.50" y2="262.5" stroke="#8a8a8a" stroke-width="0.6"/>
<line x1="134.50" y1="144.5" x2="134.50" y2="147.3" stroke="#a8a8a8" stroke-width="0.6"/>
<line x1="138.50" y1="265.3" x2="138.50" y2="262.5" stroke="#8a8a8a" stroke-width="0.6"/>
<line x1="138.50" y1="144.5" x2="138.50" y2="147.3" stroke="#a8a8a8" stroke-width="0.6"/>
<line x1="164.50" y1="265.3" x2="164.50" y2="262.5" stroke="#8a8a8a" stroke-width="0.6"/>
<line x1="164.50" y1="144.5" x2="164.50" y2="147.3" stroke="#a8a8a8" stroke-width="0.6"/>
<line x1="180.50" y1="265.3" x2="180.50" y2="262.5" stroke="#8a8a8a" stroke-width="0.6"/>
<line x1="180.50" y1="144.5" x2="180.50" y2="147.3" stroke="#a8a8a8" stroke-width="0.6"/>
<line x1="191.50" y1="265.3" x2="191.50" y2="262.5" stroke="#8a8a8a" stroke-width="0.6"/>
<line x1="191.50" y1="144.5" x2="191.50" y2="147.3" stroke="#a8a8a8" stroke-width="0.6"/>
<line x1="200.50" y1="265.3" x2="200.50" y2="262.5" stroke="#8a8a8a" stroke-width="0.6"/>
<line x1="200.50" y1="144.5" x2="200.50" y2="147.3" stroke="#a8a8a8" stroke-width="0.6"/>
<line x1="207.50" y1="265.3" x2="207.50" y2="262.5" stroke="#8a8a8a" stroke-width="0.6"/>
<line x1="207.50" y1="144.5" x2="207.50" y2="147.3" stroke="#a8a8a8" stroke-width="0.6"/>
<line x1="213.50" y1="265.3" x2="213.50" y2="262.5" stroke="#8a8a8a" stroke-width="0.6"/>
<line x1="213.50" y1="144.5" x2="213.50" y2="147.3" stroke="#a8a8a8" stroke-width="0.6"/>
<line x1="218.50" y1="265.3" x2="218.50" y2="262.5" stroke="#8a8a8a" stroke-width="0.6"/>
<line x1="218.50" y1="144.5" x2="218.50" y2="147.3" stroke="#a8a8a8" stroke-width="0.6"/>
<line x1="222.50" y1="265.3" x2="222.50" y2="262.5" stroke="#8a8a8a" stroke-width="0.6"/>
<line x1="222.50" y1="144.5" x2="222.50" y2="147.3" stroke="#a8a8a8" stroke-width="0.6"/>
<line x1="226.50" y1="265.3" x2="226.50" y2="262.5" stroke="#8a8a8a" stroke-width="0.6"/>
<line x1="226.50" y1="144.5" x2="226.50" y2="147.3" stroke="#a8a8a8" stroke-width="0.6"/>
<line x1="253.50" y1="265.3" x2="253.50" y2="262.5" stroke="#8a8a8a" stroke-width="0.6"/>
<line x1="253.50" y1="144.5" x2="253.50" y2="147.3" stroke="#a8a8a8" stroke-width="0.6"/>
<line x1="269.50" y1="265.3" x2="269.50" y2="262.5" stroke="#8a8a8a" stroke-width="0.6"/>
<line x1="269.50" y1="144.5" x2="269.50" y2="147.3" stroke="#a8a8a8" stroke-width="0.6"/>
<line x1="280.50" y1="265.3" x2="280.50" y2="262.5" stroke="#8a8a8a" stroke-width="0.6"/>
<line x1="280.50" y1="144.5" x2="280.50" y2="147.3" stroke="#a8a8a8" stroke-width="0.6"/>
<line x1="288.50" y1="265.3" x2="288.50" y2="262.5" stroke="#8a8a8a" stroke-width="0.6"/>
<line x1="288.50" y1="144.5" x2="288.50" y2="147.3" stroke="#a8a8a8" stroke-width="0.6"/>
<line x1="295.50" y1="265.3" x2="295.50" y2="262.5" stroke="#8a8a8a" stroke-width="0.6"/>
<line x1="295.50" y1="144.5" x2="295.50" y2="147.3" stroke="#a8a8a8" stroke-width="0.6"/>
<line x1="301.50" y1="265.3" x2="301.50" y2="262.5" stroke="#8a8a8a" stroke-width="0.6"/>
<line x1="301.50" y1="144.5" x2="301.50" y2="147.3" stroke="#a8a8a8" stroke-width="0.6"/>
<line x1="306.50" y1="265.3" x2="306.50" y2="262.5" stroke="#8a8a8a" stroke-width="0.6"/>
<line x1="306.50" y1="144.5" x2="306.50" y2="147.3" stroke="#a8a8a8" stroke-width="0.6"/>
<line x1="311.50" y1="265.3" x2="311.50" y2="262.5" stroke="#8a8a8a" stroke-width="0.6"/>
<line x1="311.50" y1="144.5" x2="311.50" y2="147.3" stroke="#a8a8a8" stroke-width="0.6"/>
<line x1="49.5" y1="154.50" x2="52.3" y2="154.50" stroke="#8a8a8a" stroke-width="0.6"/>
<line x1="315.5" y1="154.50" x2="312.7" y2="154.50" stroke="#8a8a8a" stroke-width="0.6"/>
<line x1="49.5" y1="179.50" x2="52.3" y2="179.50" stroke="#8a8a8a" stroke-width="0.6"/>
<line x1="315.5" y1="179.50" x2="312.7" y2="179.50" stroke="#8a8a8a" stroke-width="0.6"/>
<line x1="49.5" y1="204.50" x2="52.3" y2="204.50" stroke="#8a8a8a" stroke-width="0.6"/>
<line x1="315.5" y1="204.50" x2="312.7" y2="204.50" stroke="#8a8a8a" stroke-width="0.6"/>
<line x1="49.5" y1="230.50" x2="52.3" y2="230.50" stroke="#8a8a8a" stroke-width="0.6"/>
<line x1="315.5" y1="230.50" x2="312.7" y2="230.50" stroke="#8a8a8a" stroke-width="0.6"/>
<line x1="49.5" y1="255.50" x2="52.3" y2="255.50" stroke="#8a8a8a" stroke-width="0.6"/>
<line x1="315.5" y1="255.50" x2="312.7" y2="255.50" stroke="#8a8a8a" stroke-width="0.6"/>
<rect x="49.5" y="144.5" width="266.0" height="120.80000000000001" fill="none" stroke="#3c3c3c" stroke-width="0.75"/>
<text x="46.2" y="158.99" text-anchor="end" font-family="Liberation Serif, serif" font-size="12" fill="#111">180</text>
<text x="46.2" y="184.25" text-anchor="end" font-family="Liberation Serif, serif" font-size="12" fill="#111">90</text>
<text x="46.2" y="209.50" text-anchor="end" font-family="Liberation Serif, serif" font-size="12" fill="#111">0</text>
<text x="46.2" y="234.75" text-anchor="end" font-family="Liberation Serif, serif" font-size="12" fill="#111">−90</text>
<text x="46.2" y="260.01" text-anchor="end" font-family="Liberation Serif, serif" font-size="12" fill="#111">−180</text>
<text x="38.30" y="278.90" font-family="Liberation Serif, serif" font-size="12" fill="#111">10<tspan dy="-4.8" dx="0.6" font-size="10">−</tspan><tspan font-size="8.3">2</tspan></text>
<text x="126.97" y="278.90" font-family="Liberation Serif, serif" font-size="12" fill="#111">10<tspan dy="-4.8" dx="0.6" font-size="10">−</tspan><tspan font-size="8.3">1</tspan></text>
<text x="218.46" y="278.90" font-family="Liberation Serif, serif" font-size="12" fill="#111">10<tspan dy="-4.8" dx="0.6" font-size="8.3">0</tspan></text>
<text x="307.12" y="278.90" font-family="Liberation Serif, serif" font-size="12" fill="#111">10<tspan dy="-4.8" dx="0.6" font-size="8.3">1</tspan></text>
<text transform="translate(12.2,205) rotate(-90)" text-anchor="middle" font-family="Liberation Serif, serif" font-size="12" fill="#111">Phase (deg)</text>
<text x="183" y="293" text-anchor="middle" font-family="Liberation Serif, serif" font-size="12" fill="#111">Frequency (Hz)</text>
<rect x="54.5" y="6.5" width="66" height="16.6" fill="#fff" stroke="#3c3c3c" stroke-width="0.75"/>
<line x1="57.6" y1="14.80" x2="70.4" y2="14.80" stroke="#1a521a" stroke-width="1.05" stroke-dasharray="2.8 1.0 1.0 1.0"/>
<text x="72.8" y="18.10" font-family="Liberation Serif, serif" font-size="12" letter-spacing="0.07" fill="#111">Uncomp.</text>
<rect x="244.4" y="54.3" width="67.3" height="40.0" fill="#fff" stroke="#3c3c3c" stroke-width="0.75"/>
<line x1="247.1" y1="61.60" x2="259.3" y2="61.60" stroke="#70400c" stroke-width="2.0" stroke-dasharray="1.75 0.8"/>
<text x="266.3" y="64.50" font-family="Liberation Serif, serif" font-size="12.6" font-style="italic" fill="#111">β</text>
<text x="273.4" y="66.20" font-family="Liberation Serif, serif" font-size="7.6" fill="#111">1</text>
<text x="281.4" y="65.30" font-family="Liberation Serif, serif" font-size="12" fill="#111">=</text>
<text x="292.6" y="64.80" font-family="Liberation Serif, serif" font-size="12" letter-spacing="0.6" fill="#111">1.0</text>
<line x1="247.1" y1="74.17" x2="259.3" y2="74.17" stroke="#ff0000" stroke-width="2.0" stroke-dasharray="1.75 0.8"/>
<text x="266.3" y="77.07" font-family="Liberation Serif, serif" font-size="12.6" font-style="italic" fill="#111">β</text>
<text x="273.4" y="78.77" font-family="Liberation Serif, serif" font-size="7.6" fill="#111">1</text>
<text x="281.4" y="77.87" font-family="Liberation Serif, serif" font-size="12" fill="#111">=</text>
<text x="292.6" y="77.37" font-family="Liberation Serif, serif" font-size="12" letter-spacing="0.6" fill="#111">0.5</text>
<line x1="247.1" y1="86.75" x2="259.3" y2="86.75" stroke="#0000ff" stroke-width="1.9"/>
<text x="266.3" y="89.65" font-family="Liberation Serif, serif" font-size="12.6" font-style="italic" fill="#111">β</text>
<text x="273.4" y="91.35" font-family="Liberation Serif, serif" font-size="7.6" fill="#111">1</text>
<text x="281.4" y="90.45" font-family="Liberation Serif, serif" font-size="12" fill="#111">=</text>
<text x="292.6" y="89.95" font-family="Liberation Serif, serif" font-size="12" letter-spacing="0.6" fill="#111">0.2</text>
<rect x="54.5" y="150.4" width="66" height="15.9" fill="#fff" stroke="#3c3c3c" stroke-width="0.75"/>
<line x1="57.6" y1="158.35" x2="70.4" y2="158.35" stroke="#1a521a" stroke-width="1.05" stroke-dasharray="2.8 1.0 1.0 1.0"/>
<text x="72.8" y="161.25" font-family="Liberation Serif, serif" font-size="12" letter-spacing="0.07" fill="#111">Uncomp.</text>
<rect x="54.5" y="220.4" width="67.1" height="39.9" fill="#fff" stroke="#3c3c3c" stroke-width="0.75"/>
<line x1="57.2" y1="227.70" x2="69.4" y2="227.70" stroke="#70400c" stroke-width="2.0" stroke-dasharray="1.75 0.8"/>
<text x="76.4" y="231.20" font-family="Liberation Serif, serif" font-size="12.6" font-style="italic" fill="#111">β</text>
<text x="83.5" y="232.90" font-family="Liberation Serif, serif" font-size="7.6" fill="#111">1</text>
<text x="91.5" y="232.00" font-family="Liberation Serif, serif" font-size="12" fill="#111">=</text>
<text x="102.7" y="231.50" font-family="Liberation Serif, serif" font-size="12" letter-spacing="0.6" fill="#111">1.0</text>
<line x1="57.2" y1="240.28" x2="69.4" y2="240.28" stroke="#ff0000" stroke-width="2.0" stroke-dasharray="1.75 0.8"/>
<text x="76.4" y="243.78" font-family="Liberation Serif, serif" font-size="12.6" font-style="italic" fill="#111">β</text>
<text x="83.5" y="245.47" font-family="Liberation Serif, serif" font-size="7.6" fill="#111">1</text>
<text x="91.5" y="244.57" font-family="Liberation Serif, serif" font-size="12" fill="#111">=</text>
<text x="102.7" y="244.07" font-family="Liberation Serif, serif" font-size="12" letter-spacing="0.6" fill="#111">0.5</text>
<line x1="57.2" y1="252.85" x2="69.4" y2="252.85" stroke="#0000ff" stroke-width="1.9"/>
<text x="76.4" y="256.35" font-family="Liberation Serif, serif" font-size="12.6" font-style="italic" fill="#111">β</text>
<text x="83.5" y="258.05" font-family="Liberation Serif, serif" font-size="7.6" fill="#111">1</text>
<text x="91.5" y="257.15" font-family="Liberation Serif, serif" font-size="12" fill="#111">=</text>
<text x="102.7" y="256.65" font-family="Liberation Serif, serif" font-size="12" letter-spacing="0.6" fill="#111">0.2</text>
</svg>
</body></html>
